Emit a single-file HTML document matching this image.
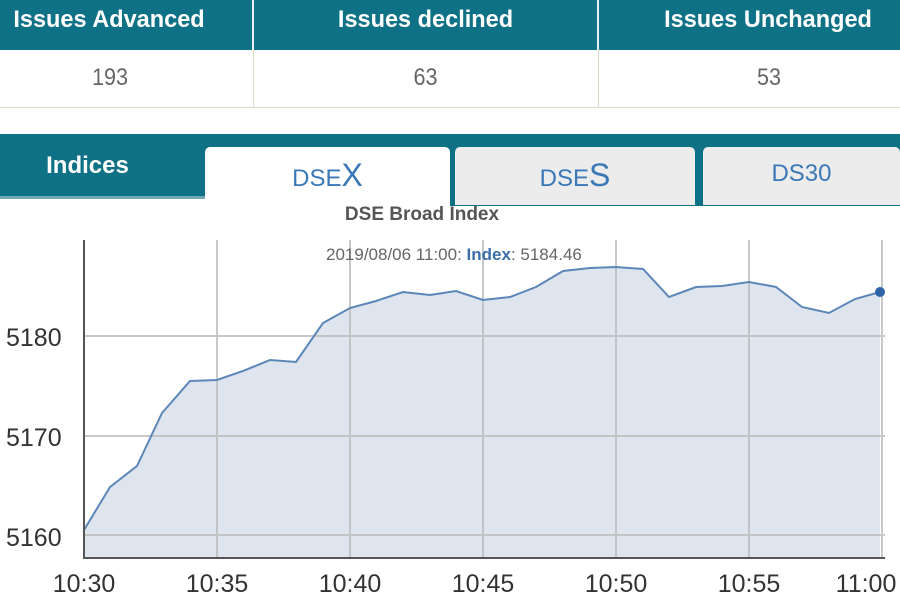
<!DOCTYPE html>
<html><head><style>
body{margin:0;width:900px;height:600px;overflow:hidden;background:#fff;font-family:"Liberation Sans",sans-serif;position:relative}
.a{position:absolute}
.h{color:#fff;font-size:24px;font-weight:bold;text-align:center;transform:scaleX(0.98)}
</style></head><body>
<div class="a" style="left:0;top:0;width:900px;height:50px;background:#0f7186"></div>
<div class="a" style="left:252px;top:0;width:2px;height:50px;background:#e8f0f0"></div>
<div class="a" style="left:597px;top:0;width:2px;height:50px;background:#e8f0f0"></div>
<div class="a h" style="left:0;top:6px;width:218px">Issues Advanced</div>
<div class="a h" style="left:254px;top:6px;width:343px">Issues declined</div>
<div class="a h" style="left:599px;top:6px;width:338px">Issues Unchanged</div>
<div class="a" style="left:0;top:50px;width:900px;height:57px;border-bottom:1px solid #dcdcc8;background:#fff"></div>
<div class="a" style="left:253px;top:50px;width:1px;height:58px;background:#dcdcc8"></div>
<div class="a" style="left:598px;top:50px;width:1px;height:58px;background:#dcdcc8"></div>
<div class="a" style="left:0;top:64px;width:220px;text-align:center;color:#666;font-size:24px;transform:scaleX(0.9)">193</div>
<div class="a" style="left:254px;top:64px;width:343px;text-align:center;color:#666;font-size:24px;transform:scaleX(0.9)">63</div>
<div class="a" style="left:599px;top:64px;width:340px;text-align:center;color:#666;font-size:24px;transform:scaleX(0.9)">53</div>
<div class="a" style="left:0;top:134px;width:900px;height:6px;background:#0f7186"></div>
<div class="a" style="left:0;top:140px;width:205px;height:56px;background:#0f7186"></div>
<div class="a" style="left:0;top:196px;width:205px;height:3px;background:#0f7186;opacity:.6"></div>
<div class="a" style="left:0;top:152px;width:175px;text-align:center;color:#fff;font-size:24px;font-weight:bold">Indices</div>
<div class="a" style="left:205px;top:140px;width:695px;height:66px;background:#0f7186"></div>
<div class="a" style="left:205px;top:147px;width:245px;height:70px;background:#fff;border-radius:5px 5px 0 0"></div>
<div class="a" style="left:455px;top:147px;width:240px;height:58px;background:#ececec;border-radius:5px 5px 0 0"></div>
<div class="a" style="left:703px;top:147px;width:197px;height:58px;background:#ececec;border-radius:5px 5px 0 0"></div>
<div class="a" style="left:205px;top:157px;width:245px;text-align:center;color:#3a78b8;font-size:24px">DSE<span style="font-size:32px">X</span></div>
<div class="a" style="left:455px;top:157px;width:240px;text-align:center;color:#3a78b8;font-size:24px">DSE<span style="font-size:32px">S</span></div>
<div class="a" style="left:703px;top:160px;width:197px;text-align:center;color:#3a78b8;font-size:24px">DS30</div>
<svg class="a" style="left:0;top:0" width="900" height="600">
<text x="422" y="220" text-anchor="middle" font-size="19" font-weight="bold" fill="#555" font-family="Liberation Sans">DSE Broad Index</text>
<path d="M84,530 L110,487 137,466 162,413 190,381 217,380 243,371 270,360 296,362 323,323 350,308 376,301 403,292 430,295 456,291 483,300 510,297 536,287 563,271 590,268 616,267 643,269 669,297 696,287 722,286 749,282 776,287 802,307 829,313 855,299 880,292 L880,558 L84,558Z" fill="#dfe5ee"/>
<g stroke="#bbb" stroke-width="2" opacity="0.8">
<line x1="84" y1="336" x2="885" y2="336"/><line x1="84" y1="436" x2="885" y2="436"/><line x1="84" y1="535" x2="885" y2="535"/>
<line x1="217" y1="240" x2="217" y2="558"/><line x1="350" y1="240" x2="350" y2="558"/><line x1="483" y1="240" x2="483" y2="558"/><line x1="616" y1="240" x2="616" y2="558"/><line x1="749" y1="240" x2="749" y2="558"/><line x1="882" y1="240" x2="882" y2="558"/>
</g>
<text x="326" y="260" font-size="17" fill="#666" font-family="Liberation Sans">2019/08/06 11:00: <tspan fill="#3a6ea8" font-weight="bold">Index</tspan>: 5184.46</text>
<path d="M84,530 L110,487 137,466 162,413 190,381 217,380 243,371 270,360 296,362 323,323 350,308 376,301 403,292 430,295 456,291 483,300 510,297 536,287 563,271 590,268 616,267 643,269 669,297 696,287 722,286 749,282 776,287 802,307 829,313 855,299 880,292" fill="none" stroke="#5b86b8" stroke-width="2"/>
<circle cx="880" cy="292" r="5" fill="#2e64a6"/>
<line x1="84" y1="240" x2="84" y2="559" stroke="#555" stroke-width="2"/>
<line x1="83" y1="558" x2="885" y2="558" stroke="#555" stroke-width="2"/>
<g font-size="25" fill="#333" font-family="Liberation Sans">
<text x="6" y="346">5180</text><text x="6" y="446">5170</text><text x="6" y="546">5160</text>
<g text-anchor="middle"><text x="84" y="592">10:30</text><text x="217" y="592">10:35</text><text x="350" y="592">10:40</text><text x="483" y="592">10:45</text><text x="616" y="592">10:50</text><text x="749" y="592">10:55</text><text x="866" y="592">11:00</text></g>
</g>
</svg>
</body></html>
